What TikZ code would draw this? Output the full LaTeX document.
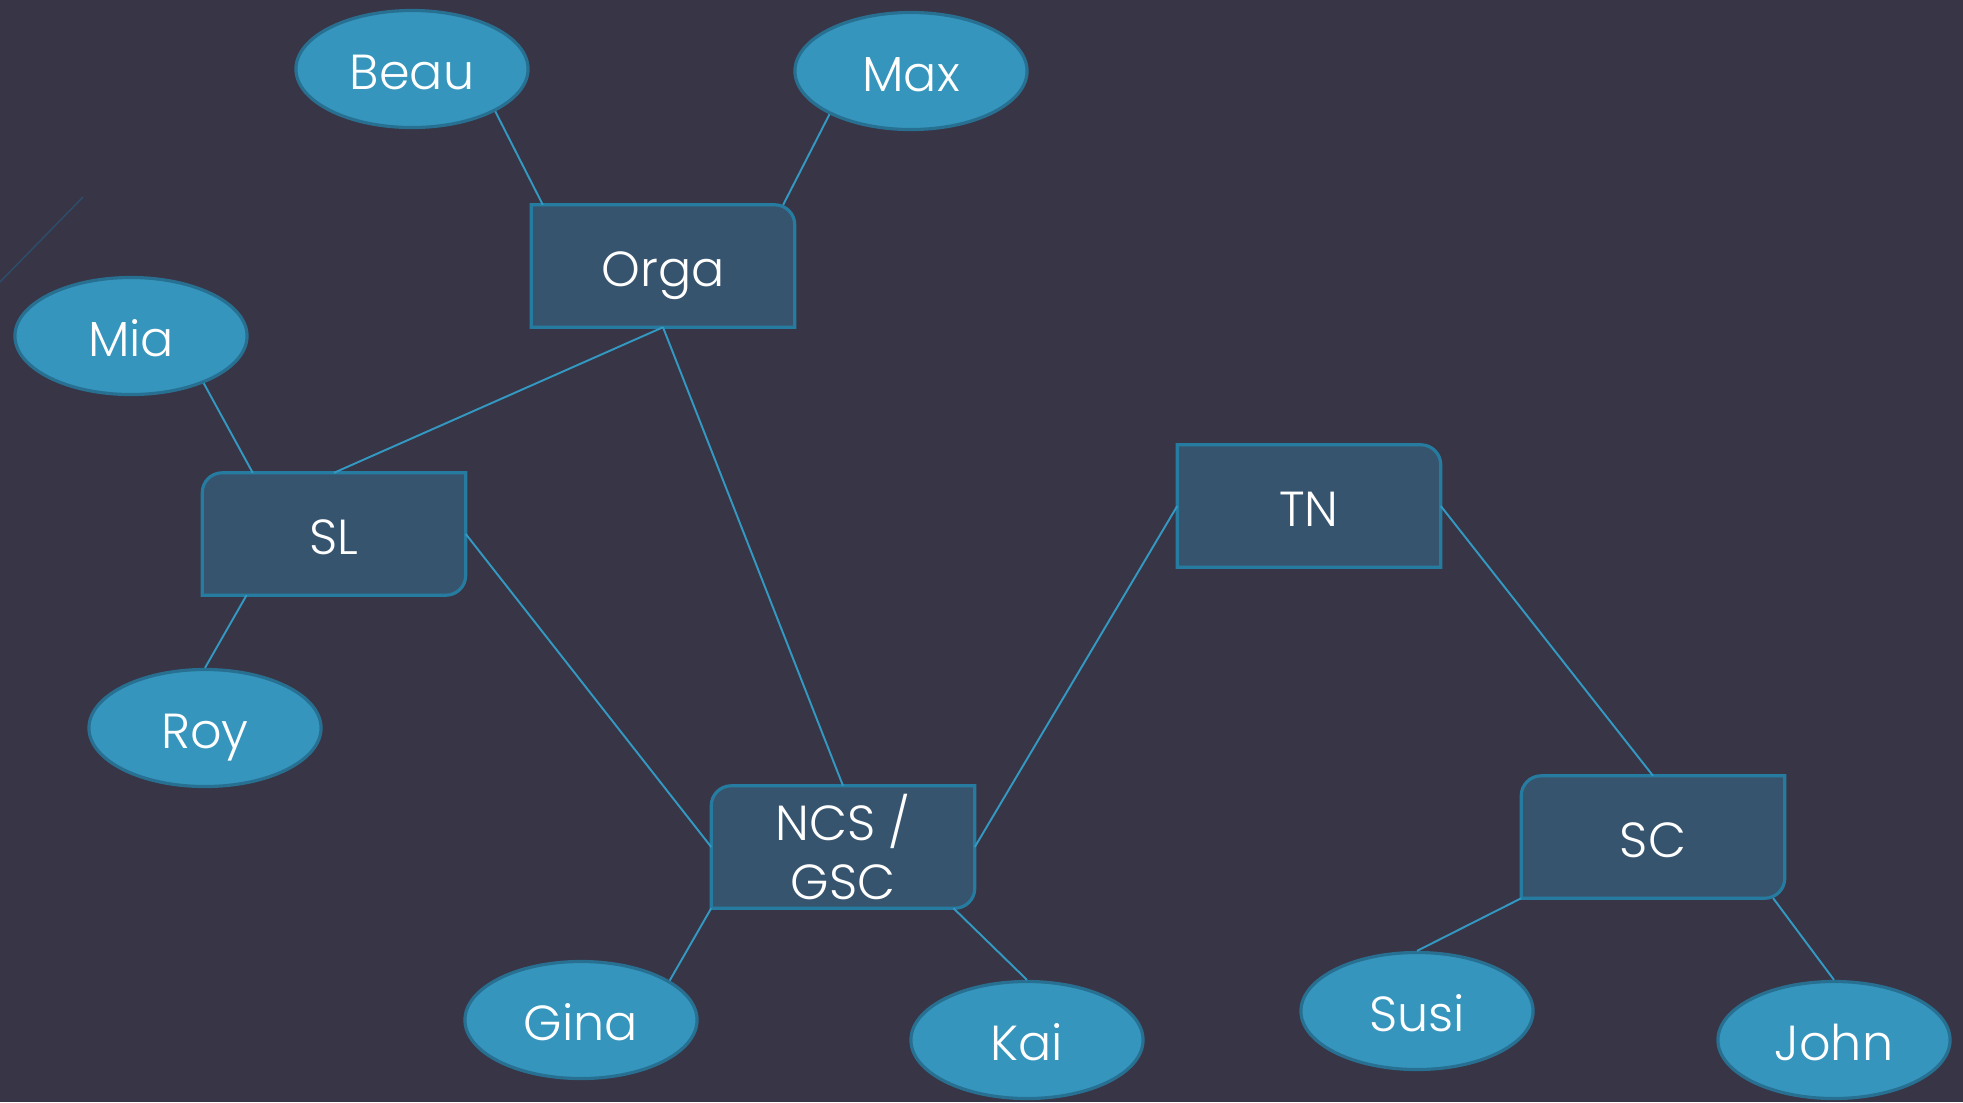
\documentclass[tikz,border=0pt]{standalone}
\usepackage{fontspec}
\setmainfont{Poppins}[UprightFont=* Light]
\usetikzlibrary{shapes.geometric,backgrounds}
\definecolor{bgdark}{RGB}{56,53,70}
\definecolor{ellfill}{RGB}{53,149,189}
\definecolor{ellborder}{RGB}{40,112,146}
\definecolor{boxfill}{RGB}{55,84,110}
\definecolor{boxborder}{RGB}{38,124,160}
\definecolor{linkblue}{RGB}{51,153,194}
\definecolor{linkfaint}{RGB}{44,78,106}

\begin{document}
\begin{tikzpicture}[x=0.01cm,y=-0.01cm,
    person/.style={ellipse,draw=ellborder,fill=ellfill,line width=0.9pt,minimum width=2.32cm,minimum height=1.17cm,inner sep=0pt,text height=11.5pt,text depth=0pt,text=white,font=\fontsize{14}{16.5}\selectfont},
    team/.style={rectangle,minimum width=2.62cm,minimum height=1.21cm,inner sep=0pt,align=center,text=white,font=\fontsize{14}{16.5}\selectfont},
    oneline/.style={text height=11.5pt,text depth=0pt},
    teamshape/.style={draw=boxborder,fill=boxfill,line width=0.9pt},
    link/.style={linkblue,line width=0.55pt}]
    \useasboundingbox (0,0) rectangle (1963,1102);
    \node[team,oneline] (orga) at (663,266) {Orga};
    \node[team,oneline] (sl) at (334,534) {SL};
    \node[team,oneline] (tn) at (1309,506) {TN};
    \node[team] (ncs) at (843,847) {NCS /\\GSC};
    \node[team,oneline] (sc) at (1653,837) {SC};
    \node[person] (beau) at (412,69) {Beau};
    \node[person] (max) at (911,71) {Max};
    \node[person] (mia) at (131,336) {Mia};
    \node[person] (roy) at (205,728) {Roy};
    \node[person] (gina) at (581,1020) {Gina};
    \node[person] (kai) at (1027,1040) {Kai};
    \node[person] (susi) at (1417,1011) {Susi};
    \node[person] (john) at (1834,1040) {John};
    \begin{scope}[on background layer]
        \fill[bgdark] (0,0) rectangle (1963,1102);
        \draw[linkfaint,line width=0.4pt] (0,282) -- (83,197);
        \draw[teamshape] (orga.south west) -- (orga.north west) -- ([xshift=-0.2cm]orga.north east) arc[start angle=90,end angle=0,radius=0.2cm] -- (orga.south east) -- cycle;
        \draw[teamshape] (tn.south west) -- (tn.north west) -- ([xshift=-0.2cm]tn.north east) arc[start angle=90,end angle=0,radius=0.2cm] -- (tn.south east) -- cycle;
        \draw[teamshape] (sl.south west) -- ([yshift=-0.2cm]sl.north west) arc[start angle=180,end angle=90,radius=0.2cm] -- (sl.north east) -- ([yshift=0.2cm]sl.south east) arc[start angle=0,end angle=-90,radius=0.2cm] -- cycle;
        \draw[teamshape] (ncs.south west) -- ([yshift=-0.2cm]ncs.north west) arc[start angle=180,end angle=90,radius=0.2cm] -- (ncs.north east) -- ([yshift=0.2cm]ncs.south east) arc[start angle=0,end angle=-90,radius=0.2cm] -- cycle;
        \draw[teamshape] (sc.south west) -- ([yshift=-0.2cm]sc.north west) arc[start angle=180,end angle=90,radius=0.2cm] -- (sc.north east) -- ([yshift=0.2cm]sc.south east) arc[start angle=0,end angle=-90,radius=0.2cm] -- cycle;
    \end{scope}
    \draw[link] (beau.-27) -- (orga.153);
    \draw[link] (max.208) -- (orga.27);
    \draw[link] (orga.south) -- (sl.north);
    \draw[link] (orga.south) -- (ncs.north);
    \draw[link] (mia.-33) -- (sl.143);
    \draw[link] (sl.215) -- (roy.north);
    \draw[link] (sl.east) -- (ncs.west);
    \draw[link] (ncs.east) -- (tn.west);
    \draw[link] (tn.east) -- (sc.north);
    \draw[link] (ncs.south west) -- (gina.24);
    \draw[link] (ncs.-29) -- (kai.north);
    \draw[link] (sc.south west) -- (susi.north);
    \draw[link] (sc.-27) -- (john.north);
\end{tikzpicture}
\end{document}
